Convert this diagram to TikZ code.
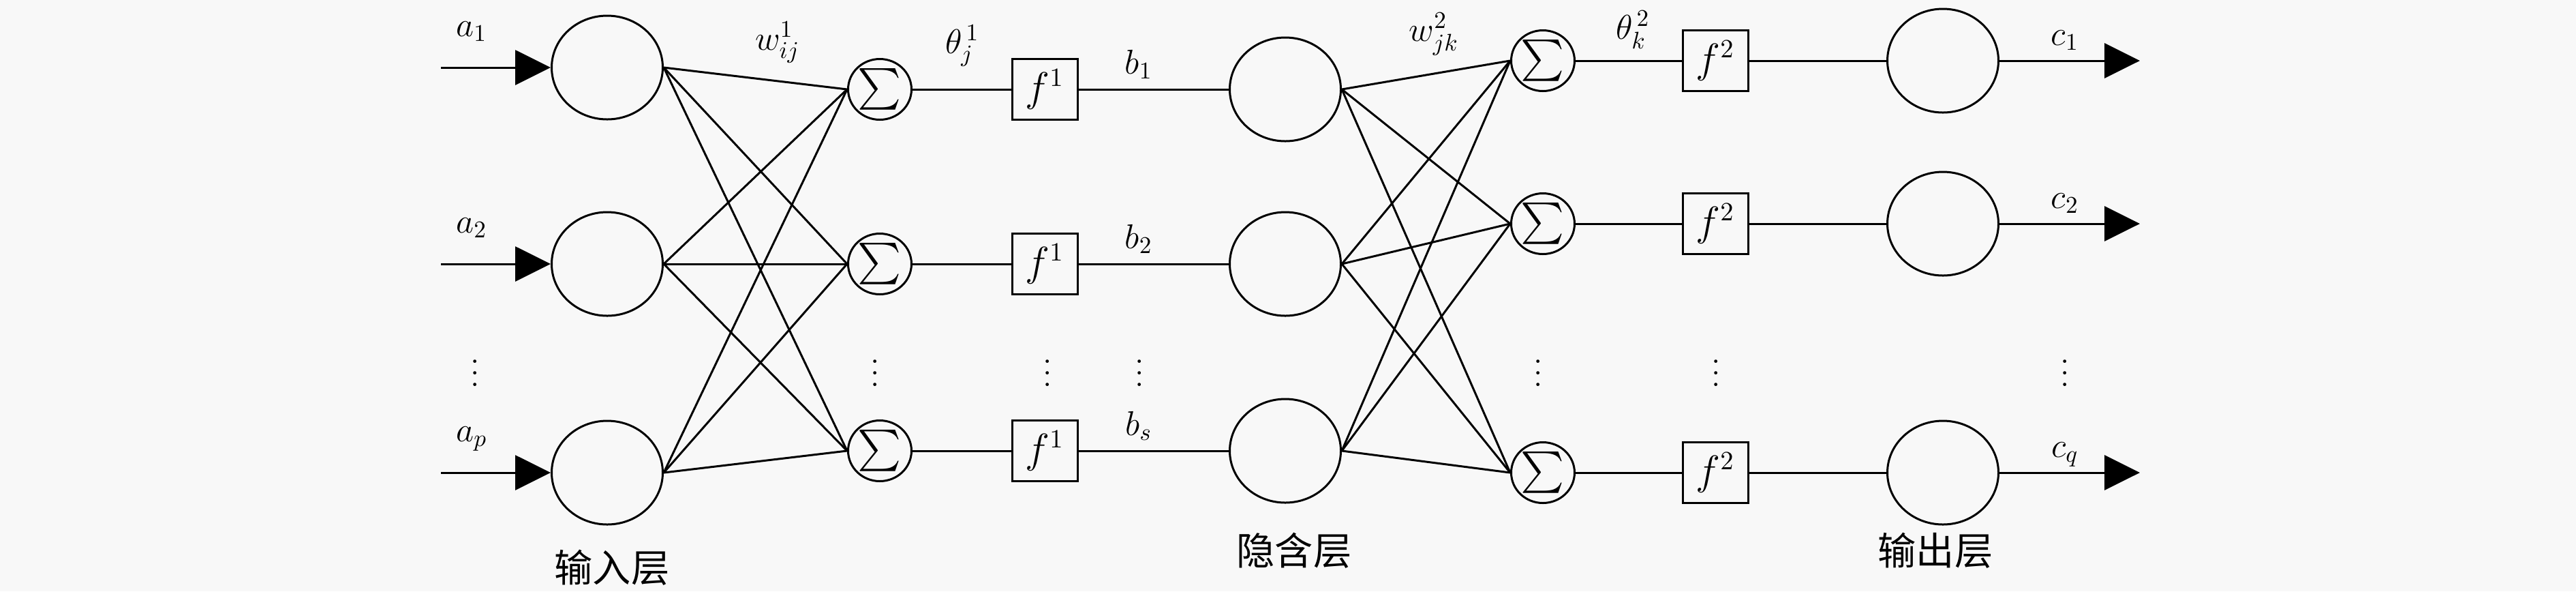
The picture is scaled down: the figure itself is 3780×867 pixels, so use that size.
\documentclass[tikz,border=0pt]{standalone}
\usepackage{amsmath}
\usepackage{fontspec}
\newfontfamily\cjk{Noto Sans CJK SC}
\usetikzlibrary{arrows.meta,shapes.geometric}
\definecolor{bg}{HTML}{F8F8F8}
\tikzset{
  neuron/.style={ellipse, draw, line width=0.3mm, minimum width=16.3mm, minimum height=15.2mm, inner sep=0pt},
  sumnode/.style={ellipse, draw, line width=0.3mm, minimum width=9.3mm, minimum height=8.9mm, inner sep=0pt, font=\fontsize{17}{17}\selectfont},
  actbox/.style={rectangle, draw, line width=0.3mm, minimum width=9.6mm, minimum height=8.9mm, inner sep=0pt, font=\fontsize{16}{16}\selectfont},
  lab/.style={anchor=base, inner sep=0pt, font=\fontsize{14}{16}\selectfont},
  conn/.style={line width=0.3mm},
  arr/.style={line width=0.3mm, -{Triangle[length=5.2mm,width=5.1mm]}},
  cnlab/.style={inner sep=0pt, font=\cjk\fontsize{16}{16}\selectfont},
  dotsn/.style={inner sep=0pt, font=\fontsize{14}{14}\selectfont}
}
\newcommand{\myvdots}{\vbox{\baselineskip=4.8pt\lineskiplimit=0pt\hbox{.}\hbox{.}\hbox{.}}}
\begin{document}
\begin{tikzpicture}[x=0.1mm,y=-0.1mm]
\fill[bg] (0,0) rectangle (3780,867);
\useasboundingbox (0,0) rectangle (3780,867);
% input layer
\foreach \i/\r in {1/99,2/387,3/693} {
  \node[neuron] (in\i) at (891,\r) {};
  \coordinate (ia\i) at (647,\r);
  \draw[arr] (ia\i) -- (in\i.west);
}
% first sums, f1 boxes, hidden layer
\foreach \i/\r in {1/131,2/387,3/661} {
  \node[sumnode] (s\i) at (1291,\r) {$\sum$};
  \node[actbox] (f\i) at (1533,\r) {$f^1$};
  \node[neuron] (h\i) at (1886,\r) {};
  \draw[conn] (s\i.east) -- (f\i.west);
  \draw[conn] (f\i.east) -- (h\i.west);
}
% second sums, f2 boxes, output layer
\foreach \i/\r in {1/89,2/328,3/693} {
  \node[sumnode] (t\i) at (2264,\r) {$\sum$};
  \node[actbox] (g\i) at (2517,\r) {$f^2$};
  \node[neuron] (o\i) at (2851,\r) {};
  \coordinate (oc\i) at (3140,\r);
  \draw[conn] (t\i.east) -- (g\i.west);
  \draw[conn] (g\i.east) -- (o\i.west);
  \draw[arr] (o\i.east) -- (oc\i);
}
% full connections
\foreach \i in {1,2,3} {
  \foreach \j in {1,2,3} {
    \draw[conn] (in\i.east) -- (s\j.west);
    \draw[conn] (h\i.east) -- (t\j.west);
  }
}
% labels
\node[lab] (la1) at (692,53) {$a_1$};
\node[lab] (la2) at (692,341) {$a_2$};
\node[lab] (la3) at (692,647) {$a_p$};
\node[lab] (lw1) at (1141,73) {$w_{ij}^{1}$};
\node[lab] (lt1) at (1412,78) {$\theta_j^{\,1}$};
\node[lab] (lb1) at (1671,108) {$b_1$};
\node[lab] (lb2) at (1671,364) {$b_2$};
\node[lab] (lb3) at (1671,638) {$b_s$};
\node[lab] (lw2) at (2104,60) {$w_{jk}^{2}$};
\node[lab] (lt2) at (2396,57) {$\theta_k^{\,2}$};
\node[lab] (lc1) at (3030,66) {$c_1$};
\node[lab] (lc2) at (3030,305) {$c_2$};
\node[lab] (lc3) at (3030,670) {$c_q$};
% dots
\foreach \n/\x in {d1/697,d2/1284,d3/1537,d4/1672,d5/2257,d6/2518,d7/3030} {
  \node[dotsn] (\n) at (\x,547) {\myvdots};
}
% layer names
\node[cnlab] (n1) at (898,832) {输入层};
\node[cnlab] (n2) at (1899,807) {隐含层};
\node[cnlab] (n3) at (2840,807) {输出层};
\end{tikzpicture}
\end{document}
